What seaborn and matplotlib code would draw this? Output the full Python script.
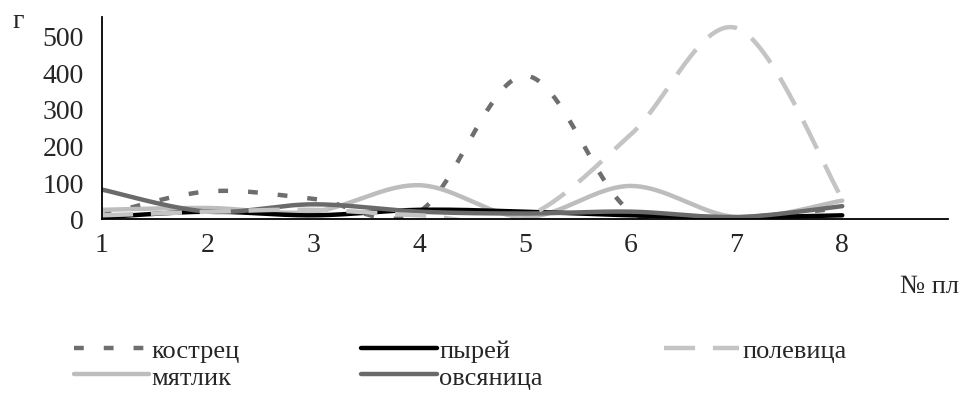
# -*- coding: utf-8 -*-
import numpy as np
import pandas as pd
import matplotlib
matplotlib.use("Agg")
import matplotlib.pyplot as plt
import seaborn as sns

# данные (г) по площадкам 1..8
plots = [1, 2, 3, 4, 5, 6, 7, 8]
kostrec = [10, 75, 55, 20, 390, 20, 5, 30]
pyrei = [5, 20, 10, 25, 20, 10, 5, 10]
polevica = [10, 20, 25, 10, 5, 230, 520, 55]
myatlik = [25, 30, 20, 92, 5, 90, 5, 50]
ovsyanica = [80, 20, 40, 20, 15, 20, 5, 35]
x_labels = ["1", "2", "3", "4", "5", "6", "7", "8", ""]

sns.set_style("white")
plt.rcParams["font.family"] = ["Liberation Serif", "DejaVu Serif"]


def smooth(xs, ys, n=40):
    # сглаженная линия как в Excel (кривые Безье по Катмулла-Рому)
    p = np.column_stack([xs, ys]).astype(float)
    p_ext = np.vstack([p[0], p, p[-1]])
    out = []
    t = np.linspace(0, 1, n)[:, None]
    for i in range(len(p) - 1):
        p0, p3 = p_ext[i + 1], p_ext[i + 2]
        c1 = p0 + (p_ext[i + 2] - p_ext[i]) / 6
        c2 = p3 - (p_ext[i + 3] - p_ext[i + 1]) / 6
        seg = ((1 - t) ** 3) * p0 + 3 * ((1 - t) ** 2) * t * c1 + 3 * (1 - t) * t ** 2 * c2 + t ** 3 * p3
        out.append(seg if i == 0 else seg[1:])
    out = np.vstack(out)
    return out[:, 0], out[:, 1]


series = [
    ("кострец", kostrec, "#6e6e6e", (0, (2.2, 4.5))),
    ("мятлик", myatlik, "#bdbdbd", "-"),
    ("пырей", pyrei, "#000000", "-"),
    ("овсяница", ovsyanica, "#6a6a6a", "-"),
    ("полевица", polevica, "#c4c4c4", (0, (7, 4))),
]

fig = plt.figure(figsize=(9.75, 4.06), dpi=100)
ax = fig.add_axes([102 / 975, 1 - 220 / 406, (948 - 102) / 975, (220 - 18) / 406])

for name, vals, col, ls in series:
    sx, sy = smooth(plots, vals)
    df = pd.DataFrame({"x": sx, "y": sy})
    sns.lineplot(data=df, x="x", y="y", ax=ax, color=col, linestyle=ls,
                 linewidth=3.2, label=name, estimator=None, sort=False)

ax.set_xlim(1, 9)
ax.set_ylim(0, 550)
ax.set_xticks(range(1, 10))
ax.set_xticklabels(x_labels)
ax.set_yticks([0, 100, 200, 300, 400, 500])
ax.set_xlabel("")
ax.set_ylabel("")
for s in ["top", "right"]:
    ax.spines[s].set_visible(False)
for s in ["left", "bottom"]:
    ax.spines[s].set_color("black")
    ax.spines[s].set_linewidth(1.3)
ax.tick_params(axis="y", direction="inout", length=16, width=1.3, labelsize=20, pad=5)
ax.tick_params(axis="x", direction="inout", length=13, width=1.3, labelsize=20, pad=3)

fig.text(12 / 975, 1 - 22 / 406, "г", fontsize=20, ha="left", va="center")
fig.text(930 / 975, 1 - 287 / 406, "№ пл", fontsize=19, ha="center", va="center")

ax.get_legend().remove()
handles, labels = ax.get_legend_handles_labels()
fig.legend(handles, labels, loc="upper left", bbox_to_anchor=(74 / 975, 1 - 340 / 406),
           ncol=3, frameon=False, fontsize=19, handlelength=2.85, handletextpad=0.1,
           columnspacing=4.6, labelspacing=0.1, borderaxespad=0, borderpad=0)

fig.savefig("out.png", dpi=100)
